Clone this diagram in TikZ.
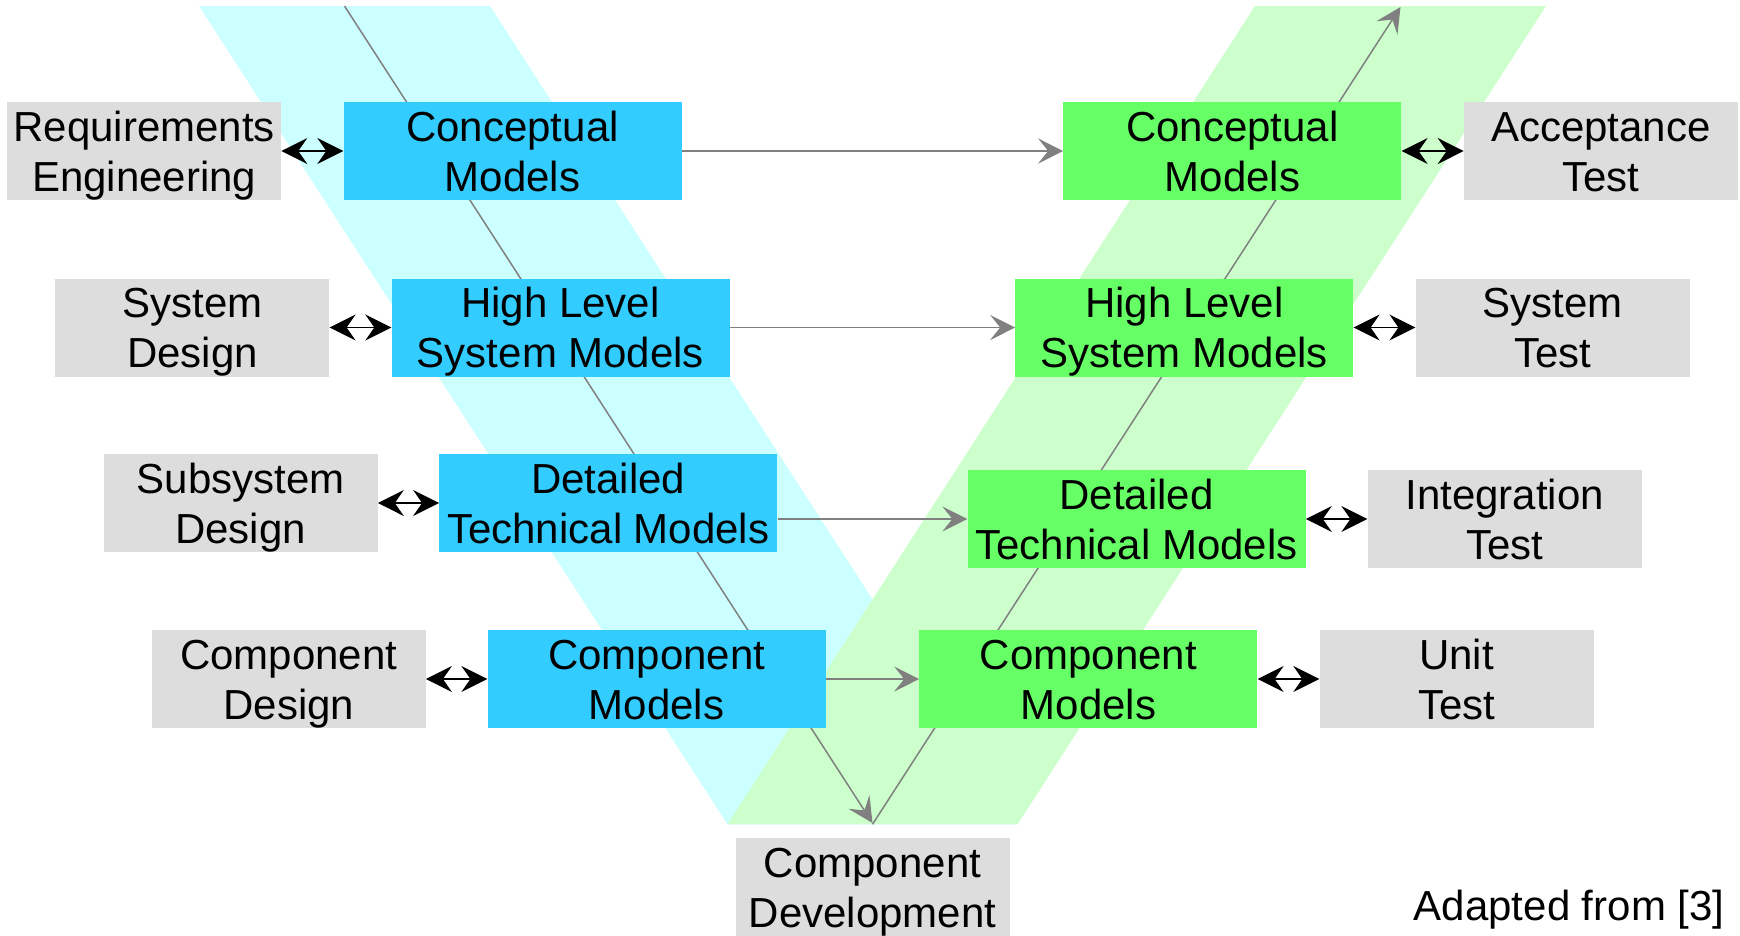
\documentclass[tikz,border=0pt]{standalone}
\usepackage{fontspec}
\setmainfont{Liberation Sans}
\usetikzlibrary{arrows.meta}
\definecolor{bandblue}{HTML}{CCFFFF}
\definecolor{bandgreen}{HTML}{CCFFCC}
\definecolor{boxblue}{HTML}{33CCFF}
\definecolor{boxgreen}{HTML}{66FF66}
\definecolor{boxgray}{HTML}{DDDDDD}
\definecolor{linegray}{HTML}{808080}
\newcommand{\twolines}[2]{\raisebox{0pt}[30pt][0pt]{#1}\\\raisebox{0pt}[30pt][0pt]{#2}}
\begin{document}
\begin{tikzpicture}[x=1pt,y=-1pt,
  box/.style={rectangle, inner sep=0pt, minimum width=338pt, minimum height=98pt,
    align=center, font=\fontsize{42pt}{50pt}\selectfont},
  graybox/.style={box, fill=boxgray, minimum width=274pt},
  bluebox/.style={box, fill=boxblue},
  greenbox/.style={box, fill=boxgreen},
  flowtip/.style={-{Stealth[length=25pt, width=25pt, inset=10pt]}},
  flow/.style={draw=linegray, line width=1.8pt, flowtip},
  diag/.style={draw=linegray, line width=1.5pt, flowtip},
  link/.style={draw=black, line width=1.3pt,
    {Stealth[length=26pt,width=26pt,inset=9pt]}-{Stealth[length=26pt,width=26pt,inset=9pt]}}
]
\useasboundingbox (0,0) rectangle (1740,935);
% V bands
\fill[bandblue] (199,6) -- (490,6) -- (1017.5,824.3) -- (727.5,824.3) -- cycle;
\fill[bandgreen] (1255,6) -- (1546,6) -- (1017.5,824.3) -- (727.5,824.3) -- cycle;
% diagonal flow lines
\coordinate (btop) at (344.5,6);
\coordinate (bbot) at (872.5,823);
\coordinate (gbot) at (872.5,824.3);
\coordinate (gtop) at (1400.5,7);
\draw[diag] (btop) -- (bbot);
\draw[diag] (gbot) -- (gtop);
% left gray boxes
\node[graybox] (l1) at (144.1,151) {\twolines{Requirements}{Engineering}};
\node[graybox] (l2) at (192.4,327.5) {\twolines{System}{Design}};
\node[graybox] (l3) at (240.6,503) {\twolines{Subsystem}{Design}};
\node[graybox] (l4) at (288.7,679) {\twolines{Component}{Design}};
% blue boxes
\node[bluebox] (b1) at (512.5,151) {\twolines{Conceptual}{Models}};
\node[bluebox] (b2) at (560.5,327.5) {\twolines{High Level}{System Models}};
\node[bluebox] (b3) at (608.3,503) {\twolines{Detailed}{Technical Models}};
\node[bluebox] (b4) at (656.6,679) {\twolines{Component}{Models}};
% green boxes
\node[greenbox] (g1) at (1232.4,151) {\twolines{Conceptual}{Models}};
\node[greenbox] (g2) at (1184.4,327.5) {\twolines{High Level}{System Models}};
\node[greenbox] (g3) at (1136.6,519) {\twolines{Detailed}{Technical Models}};
\node[greenbox] (g4) at (1088.4,679) {\twolines{Component}{Models}};
% right gray boxes
\node[graybox] (r1) at (1600.9,151) {\twolines{Acceptance}{Test}};
\node[graybox] (r2) at (1552.6,327.5) {\twolines{System}{Test}};
\node[graybox] (r3) at (1504.6,519) {\twolines{Integration}{Test}};
\node[graybox] (r4) at (1456.5,679) {\twolines{Unit}{Test}};
% bottom
\node[graybox] (dev) at (872.5,887) {\twolines{Component}{Development}};
\node[anchor=base east, inner sep=0pt, font=\fontsize{42pt}{50pt}\selectfont] (src) at (1724.6,920) {Adapted from [3]};
% horizontal flows
\draw[flow] (b1.east) -- (g1.west);
\draw[flow] (b2.east) -- (g2.west);
\draw[flow] (b3.east |- g3.west) -- (g3.west);
\draw[flow] (b4.east) -- (g4.west);
% double links
\draw[link] (l1.east) -- (b1.west);
\draw[link] (l2.east) -- (b2.west);
\draw[link] (l3.east) -- (b3.west);
\draw[link] (l4.east) -- (b4.west);
\draw[link] (g1.east) -- (r1.west);
\draw[link] (g2.east) -- (r2.west);
\draw[link] (g3.east) -- (r3.west);
\draw[link] (g4.east) -- (r4.west);
\end{tikzpicture}
\end{document}
